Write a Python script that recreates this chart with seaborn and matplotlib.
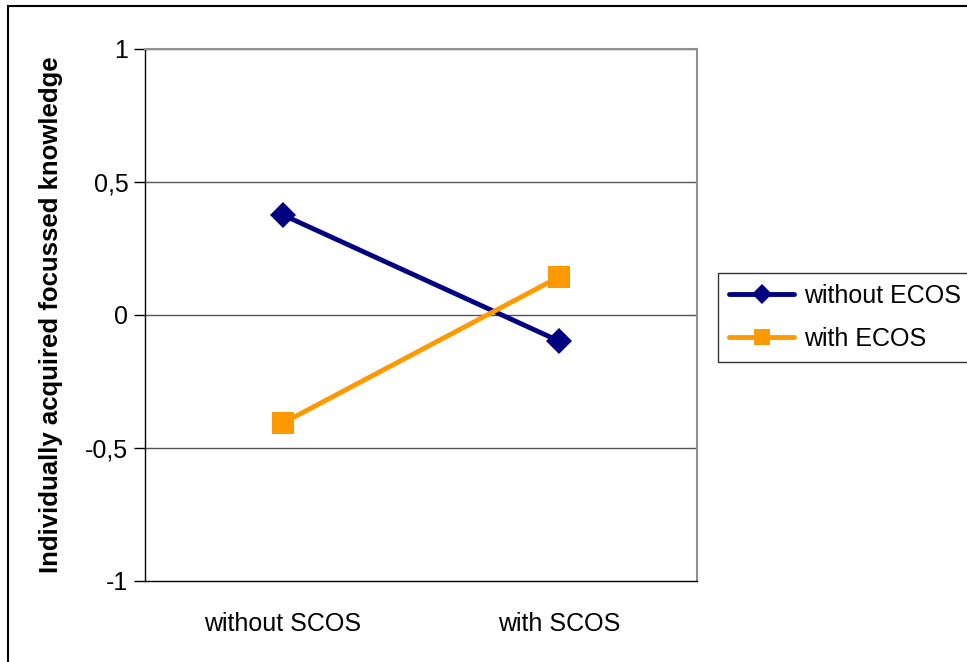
import pandas as pd
import matplotlib.pyplot as plt
import seaborn as sns
from matplotlib.patches import Rectangle
from matplotlib.lines import Line2D

# data
scos_levels = ['without SCOS', 'with SCOS']
without_ecos = [0.376, -0.098]
with_ecos = [-0.406, 0.143]
series_names = ['without ECOS', 'with ECOS']
ytick_vals = [-1, -0.5, 0, 0.5, 1]
ytick_text = ['-1', '-0,5', '0', '0,5', '1']

df = pd.DataFrame({
    'scos': scos_levels * 2,
    'pos': [0, 1] * 2,
    'value': without_ecos + with_ecos,
    'ecos': [series_names[0]] * 2 + [series_names[1]] * 2,
})

sns.set_style('white')
plt.rcParams['font.family'] = ['Liberation Sans', 'DejaVu Sans']
plt.rcParams['text.color'] = 'black'
plt.rcParams['xtick.color'] = 'black'
plt.rcParams['ytick.color'] = 'black'
plt.rcParams['axes.labelcolor'] = 'black'

fig = plt.figure(figsize=(9.67, 6.62), dpi=100)
ax = fig.add_axes([145/967, 1-581/662, 552/967, 532/662])

pal = {'without ECOS': '#000080', 'with ECOS': '#FF9900'}
mk = {'without ECOS': 'D', 'with ECOS': 's'}
sns.lineplot(data=df, x='pos', y='value', hue='ecos', style='ecos',
             palette=pal, markers=mk, dashes=False, lw=3.5, ax=ax,
             markeredgewidth=0, legend=False)
for ln, ms in zip(ax.lines, [13, 16]):
    ln.set_markersize(ms)
    ln.set_zorder(3)

fs = 18
ax.set_xlim(-0.5, 1.5)
ax.set_ylim(-1, 1)
ax.set_yticks(ytick_vals)
ax.set_yticklabels(ytick_text, fontsize=fs)
ax.set_xticks([0, 1])
ax.set_xticklabels(scos_levels, fontsize=fs)
ax.set_xticks([-0.5, 0.5, 1.5], minor=True)
ax.tick_params(axis='x', which='major', length=0, pad=22)
ax.tick_params(axis='x', which='minor', length=8, width=1, direction='out', color='black')
ax.tick_params(axis='y', length=8, width=1, direction='out', color='black', pad=4, left=True)
for v in [-0.5, 0, 0.5, 1]:
    ax.axhline(v, color='#555555', lw=1, zorder=1)
for s in ['top', 'right']:
    ax.spines[s].set_color('#909090')
    ax.spines[s].set_linewidth(1.5)
for s in ['left', 'bottom']:
    ax.spines[s].set_color('black')
    ax.spines[s].set_linewidth(1)
ax.set_xlabel('')
ax.set_ylabel('Individually acquired focussed knowledge', fontsize=18.5,
              fontweight='bold', labelpad=16)

handles = [Line2D([], [], color=pal[n], lw=3.5, marker=mk[n],
                  markersize=10 if n == 'without ECOS' else 12, markeredgewidth=0)
           for n in series_names]
leg = fig.legend(handles, series_names, loc='upper left',
                 bbox_to_anchor=(718/967, 1-273/662), fontsize=fs,
                 frameon=True, fancybox=False, edgecolor='black',
                 handlelength=2.6, borderpad=0.45, labelspacing=0.75,
                 handletextpad=0.4, borderaxespad=0)
leg.get_frame().set_linewidth(1)

fig.patches.append(Rectangle((8/967, -0.05), 1.1, 1.05 - 6/662, transform=fig.transFigure,
                             fill=False, edgecolor='black', lw=1.5, zorder=0))

fig.savefig('out.png', dpi=100, facecolor='white')
